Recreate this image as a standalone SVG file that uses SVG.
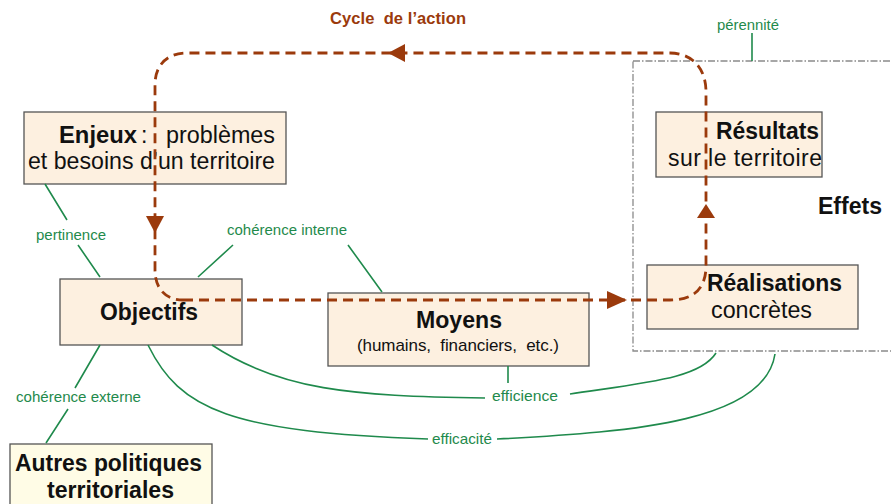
<svg xmlns="http://www.w3.org/2000/svg" width="891" height="504" viewBox="0 0 891 504">
  <style>
    text { font-family: "Liberation Sans", Arial, sans-serif; }
    .box { fill: #fdf0e0; stroke: #555; stroke-width: 1.3; }
    .box2 { fill: #fffce6; stroke: #555; stroke-width: 1.3; }
    .t { font-size: 23px; fill: #111; }
    .sub { font-size: 17px; fill: #111; }
    .b { font-weight: bold; }
    .g { font-size: 15px; fill: #1f8a4c; }
    .cy { font-size: 16.5px; font-weight: bold; fill: #9b3a0c; }
    .gl { fill: none; stroke: #1f8a4c; stroke-width: 1.6; }
    .cyc { fill: none; stroke: #9b3a0c; stroke-width: 2.8; stroke-dasharray: 10 6; }
    .ah { fill: #9b3a0c; }
  </style>

  <!-- zone "Effets" (dash-dot frame) -->
  <g id="zone-effets">
    <rect x="633" y="61" width="270" height="290" fill="none" stroke="#8a8a8a" stroke-width="1.3" stroke-dasharray="7 2 1.5 2"/>
    <text x="818" y="214" class="t b" textLength="64" lengthAdjust="spacingAndGlyphs">Effets</text>
  </g>

  <!-- nodes -->
  <g id="enjeux">
    <rect x="24" y="112" width="262" height="72" class="box"/>
    <text x="59" y="143" class="t b" textLength="78" lengthAdjust="spacingAndGlyphs">Enjeux</text>
    <text x="141" y="143" class="t">:</text>
    <text x="166" y="143" class="t" textLength="109" lengthAdjust="spacingAndGlyphs">problèmes</text>
    <text x="28" y="169" class="t" textLength="247" lengthAdjust="spacingAndGlyphs">et besoins d’un territoire</text>
  </g>
  <g id="objectifs">
    <rect x="60" y="279" width="182" height="66" class="box"/>
    <text x="100" y="320" class="t b" textLength="98" lengthAdjust="spacingAndGlyphs">Objectifs</text>
  </g>
  <g id="moyens">
    <rect x="328" y="293" width="261" height="73" class="box"/>
    <text x="416" y="328" class="t b" textLength="86" lengthAdjust="spacingAndGlyphs">Moyens</text>
    <text x="357" y="351" class="sub" xml:space="preserve" textLength="202" lengthAdjust="spacing">(humains,  financiers,  etc.)</text>
  </g>
  <g id="realisations">
    <rect x="647" y="265" width="211" height="64" class="box"/>
    <text x="707" y="291" class="t b" textLength="135" lengthAdjust="spacingAndGlyphs">Réalisations</text>
    <text x="711" y="318" class="t" textLength="101" lengthAdjust="spacingAndGlyphs">concrètes</text>
  </g>
  <g id="resultats">
    <rect x="656" y="112" width="166" height="65" class="box"/>
    <text x="716" y="139" class="t b" textLength="103" lengthAdjust="spacingAndGlyphs">Résultats</text>
    <text x="668" y="166" class="t" textLength="154" lengthAdjust="spacing">sur le territoire</text>
  </g>
  <g id="autres-politiques">
    <rect x="10" y="444" width="202" height="70" class="box2"/>
    <text x="15" y="471" class="t b" textLength="187" lengthAdjust="spacingAndGlyphs">Autres politiques</text>
    <text x="47" y="498" class="t b" textLength="127" lengthAdjust="spacingAndGlyphs">territoriales</text>
  </g>

  <!-- connectors -->
  <g id="connectors">
    <!-- evaluation criteria (green) -->
    <path class="gl" d="M45 184 L67 220 M78 245 L100 277"/>
    <path class="gl" d="M233 245 L198 277 M348 245 L382 292"/>
    <path class="gl" d="M100 345 L75 388 M68 409 L46 443"/>
    <path class="gl" d="M752 33 V61"/>
    <path class="gl" d="M508 366 V383"/>
    <path class="gl" d="M212 345 C 280 390, 350 396, 485 398"/>
    <path class="gl" d="M570 394 C 650 382, 700 378, 716 353"/>
    <path class="gl" d="M148 345 C 180 410, 230 432, 428 439"/>
    <path class="gl" d="M497 439 C 640 432, 765 420, 775 354"/>

    <text x="36" y="240" class="g" textLength="70" lengthAdjust="spacingAndGlyphs">pertinence</text>
    <text x="227" y="235" class="g" textLength="120" lengthAdjust="spacingAndGlyphs">cohérence interne</text>
    <text x="16" y="402" class="g" textLength="125" lengthAdjust="spacingAndGlyphs">cohérence externe</text>
    <text x="717" y="30" class="g" textLength="62" lengthAdjust="spacingAndGlyphs">pérennité</text>
    <text x="492" y="401" class="g" textLength="66" lengthAdjust="spacingAndGlyphs">efficience</text>
    <text x="432" y="444" class="g" textLength="60" lengthAdjust="spacingAndGlyphs">efficacité</text>

    <!-- action cycle (brown dashed loop) -->
    <path class="cyc" d="M183 300 H670 C 692 300 706 290 706 266 V92 C 706 66 690 53 670 53 H187 C 167 53 155 65 155 85 V270 C 155 288 165 300 183 300"/>
    <polygon class="ah" points="388,53 405,44 405,62"/>
    <polygon class="ah" points="155,233 146,216 164,216"/>
    <polygon class="ah" points="706,204 697,218 715,218"/>
    <polygon class="ah" points="627,300 607,291 607,309"/>
    <text x="330" y="24" class="cy" xml:space="preserve" textLength="136" lengthAdjust="spacing">Cycle  de l’action</text>
  </g>
</svg>
